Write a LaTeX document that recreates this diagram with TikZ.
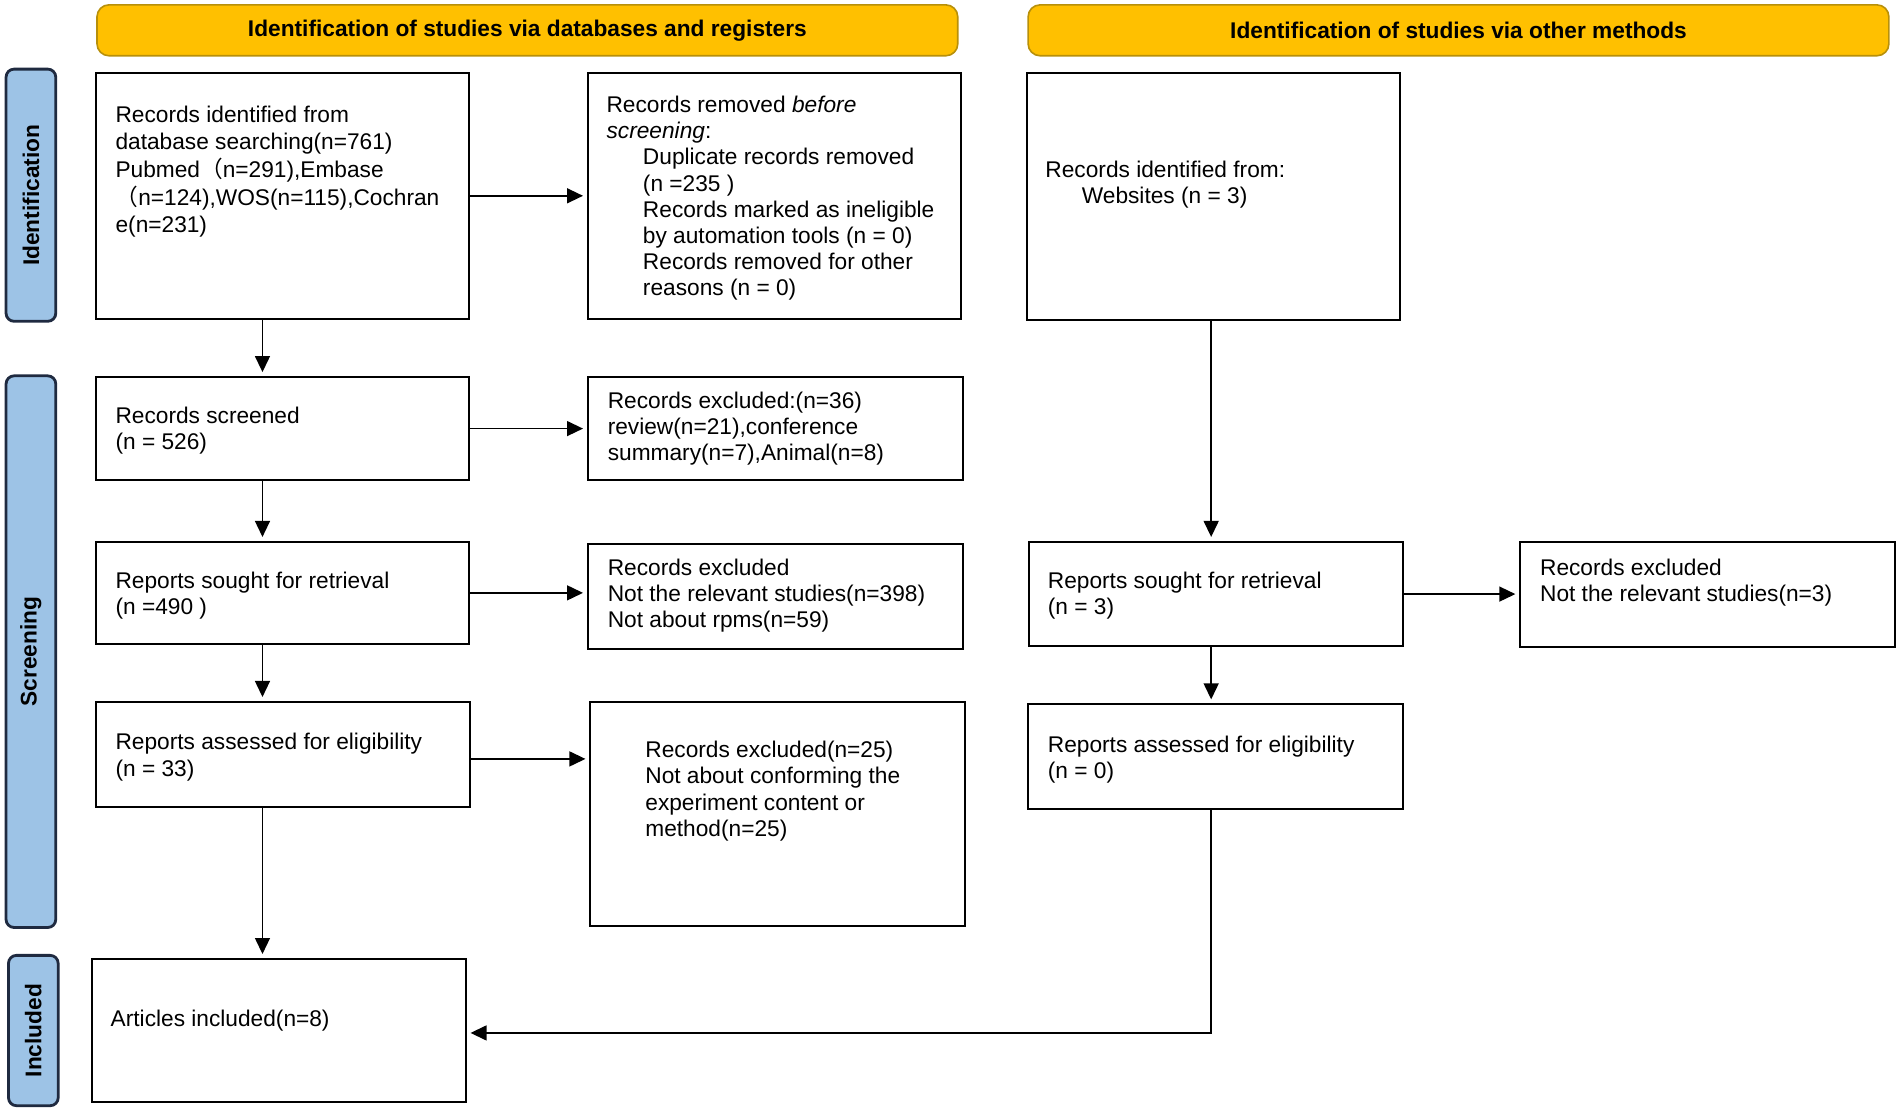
\documentclass[tikz,border=0pt]{standalone}
\usepackage{fontspec}
\setmainfont{Liberation Sans}
\newfontfamily\cjk{Noto Sans CJK SC}
\usetikzlibrary{arrows.meta,fit,calc}
\definecolor{hdrfill}{HTML}{FFC000}
\definecolor{hdrdraw}{HTML}{B8900A}
\definecolor{sidefill}{HTML}{9DC3E6}
\definecolor{sidedraw}{HTML}{1F2A40}
\begin{document}
\begin{tikzpicture}[x=0.60625pt,y=-0.60625pt,
 box/.style={draw=black, line width=1pt, inner sep=0pt},
 hdr/.style={draw=hdrdraw, fill=hdrfill, line width=0.8pt, rounded corners=6pt, inner sep=0pt},
 side/.style={draw=sidedraw, fill=sidefill, line width=1.4pt, rounded corners=4pt, inner sep=0pt},
 txt/.style={anchor=west, align=left, inner sep=0pt, font=\fontsize{11.35}{13.1}\selectfont},
 htxt/.style={inner sep=0pt, font=\fontsize{11.35}{13.1}\selectfont\bfseries},
 stxt/.style={inner sep=0pt, rotate=90, font=\fontsize{11.35}{13.1}\selectfont\bfseries},
 arr/.style={line width=0.7pt, -{Triangle[length=8pt,width=7.5pt]}, shorten >=2pt}
]
\useasboundingbox (0,0) rectangle (1568,915.5);

% headers
\node[hdr, fit={(80,4) (790,46)}] (h1) {};
\node[htxt] (h1t) at (h1.center) {Identification of studies via databases and registers};
\node[hdr, fit={(848,4) (1558,46)}] (h2) {};
\node[htxt] (h2t) at (h2.center) {Identification of studies via other methods};

% side labels
\node[side, fit={(5,57) (46,265)}] (s1) {};
\node[stxt] (s1t) at (s1.center) {Identification};
\node[side, fit={(5,310) (46,765)}] (s2) {};
\node[stxt] (s2t) at (s2.center) {Screening};
\node[side, fit={(7,788) (48,912)}] (s3) {};
\node[stxt] (s3t) at (s3.center) {Included};

% boxes
\node[box, fit={(79,60) (387,263)}] (A) {};
\node[box, fit={(485,60) (793,263)}] (B) {};
\node[box, fit={(847,60) (1155,264)}] (C) {};
\node[box, fit={(79,311) (387,396)}] (D) {};
\node[box, fit={(485,311) (794,396)}] (E) {};
\node[box, fit={(79,447) (387,531)}] (F) {};
\node[box, fit={(485,449) (794,535)}] (G) {};
\node[box, fit={(849,447) (1157,533)}] (H) {};
\node[box, fit={(1254,447) (1563,534)}] (I) {};
\node[box, fit={(79,579) (388,666)}] (J) {};
\node[box, fit={(487,579) (796,764)}] (K) {};
\node[box, fit={(848,581) (1157,667)}] (L) {};
\node[box, fit={(76,791) (384,909)}] (M) {};

% texts
\node[txt, font=\fontsize{11.35}{13.8}\selectfont] (tA) at (95,141.5) {Records identified from\\database searching(n=761)\\Pubmed{\cjk （}n=291),Embase\\{\cjk （}n=124),WOS(n=115),Cochran\\e(n=231)};
\node[txt] (tB) at (500,163.5) {Records removed \textit{before}\\\textit{screening}:\\\hspace*{18.2pt}Duplicate records removed\\\hspace*{18.2pt}(n =235 )\\\hspace*{18.2pt}Records marked as ineligible\\\hspace*{18.2pt}by automation tools (n = 0)\\\hspace*{18.2pt}Records removed for other\\\hspace*{18.2pt}reasons (n = 0)};
\node[txt] (tC) at (862,152.5) {Records identified from:\\\hspace*{18.2pt}Websites (n = 3)};
\node[txt] (tD) at (95,355.5) {Records screened\\(n = 526)};
\node[txt] (tE) at (501,353.5) {Records excluded:(n=36)\\review(n=21),conference\\summary(n=7),Animal(n=8)};
\node[txt] (tF) at (95,491) {Reports sought for retrieval\\(n =490 )};
\node[txt] (tG) at (501,491.5) {Records excluded\\Not the relevant studies(n=398)\\Not about rpms(n=59)};
\node[txt] (tH) at (864,491.5) {Reports sought for retrieval\\(n = 3)};
\node[txt] (tI) at (1270,480.5) {Records excluded\\Not the relevant studies(n=3)};
\node[txt] (tJ) at (95,624.5) {Reports assessed for eligibility\\(n = 33)};
\node[txt] (tK) at (532,652.5) {Records excluded(n=25)\\Not about conforming the\\experiment content or\\method(n=25)};
\node[txt] (tL) at (864,626.5) {Reports assessed for eligibility\\(n = 0)};
\node[txt] (tM) at (91,842) {Articles included(n=8)};

% connector columns
\coordinate (xL) at (216.5,0);
\coordinate (xR) at (999,0);

% arrows
\draw[arr] (A.east) -- (B.west);
\draw[arr] (A.south -| xL) -- (D.north -| xL);
\draw[arr] (D.east) -- (E.west |- D.east);
\draw[arr] (D.south -| xL) -- (F.north -| xL);
\draw[arr] (F.east) -- (G.west |- F.east);
\draw[arr] (F.south -| xL) -- (J.north -| xL);
\draw[arr] ([yshift=-2.1pt]J.east) -- ([yshift=-2.1pt]K.west |- J.east);
\draw[arr] (J.south -| xL) -- (M.north -| xL);
\draw[arr] (C.south -| xR) -- (H.north -| xR);
\draw[arr] (H.east) -- (I.west |- H.east);
\draw[arr] (H.south -| xR) -- (L.north -| xR);
\draw[arr] (L.south -| xR) |- ([yshift=-1.2pt]M.east);
\end{tikzpicture}
\end{document}
